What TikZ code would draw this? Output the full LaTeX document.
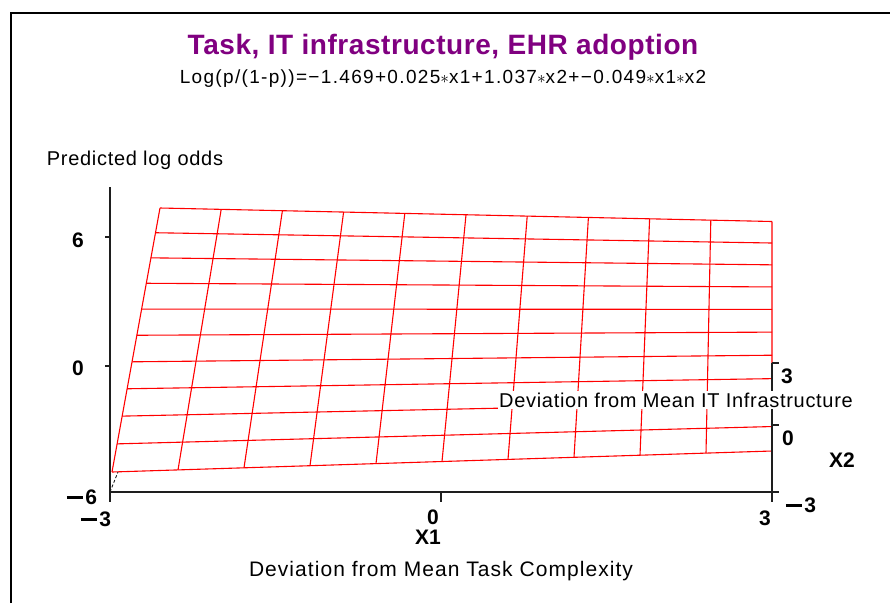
\documentclass[tikz,border=0pt]{standalone}
\usepackage{fontspec}
\setmainfont{Liberation Sans}
\definecolor{titlepurple}{RGB}{128,0,128}
\definecolor{axisgray}{RGB}{30,30,30}

% long heavy minus used in the bold tick labels
\newcommand\heavyminus{\rule[5.5pt]{16pt}{3pt}\kern2.5pt}

\tikzset{
  grid line/.style={draw=red, line width=1.1pt},
  axis line/.style={draw=axisgray, line width=1.3pt},
  plain label/.style={inner sep=0pt, font=\fontsize{20}{24}\selectfont\addfontfeature{LetterSpace=3.5}},
  tick label/.style={inner sep=0pt, font=\fontsize{21}{25}\selectfont\bfseries},
}

\begin{document}
\begin{tikzpicture}[x=1pt, y=-1pt]
  \useasboundingbox (0,0) rectangle (890,603);

  % outer frame (open on the right and bottom)
  \draw[line width=2.5pt] (11,603) -- (11,13) -- (890,13);

  % headings
  \node[text=titlepurple, inner sep=0pt,
        font=\fontsize{28}{33}\selectfont\bfseries\addfontfeature{LetterSpace=2}]
        (title) at (443,47) {Task, IT infrastructure, EHR adoption};
  \node[inner sep=0pt, font=\fontsize{19}{22}\selectfont\addfontfeature{LetterSpace=7}]
        (equation) at (443,79)
        {Log(p/(1-p))=−1.469+0.025$\ast$x1+1.037$\ast$x2+−0.049$\ast$x1$\ast$x2};

  % surface grid: lines of constant X2 and lines of constant X1
  \foreach \j in {0,...,10}{
    \pgfmathsetmacro\u{\j/10}
    \pgfmathsetmacro\s{1.075*\u/(1+0.075*\u)}
    \coordinate (L\j) at ({112+48*\s},{472-264*\s});
    \coordinate (R\j) at (772,{451-229.5*\s});
  }
  \foreach \i in {0,...,10}{
    \coordinate (B\i) at ({112+66*\i},{472-2.1*\i});
    \coordinate (T\i) at ({160+61.2*\i},{208+1.35*\i});
  }
  \foreach \j in {0,...,10}{ \draw[grid line] (L\j) -- (R\j); }
  \foreach \i in {0,...,10}{ \draw[grid line] (B\i) -- (T\i); }

  % axes
  \coordinate (ztop) at (110,187);
  \coordinate (origin) at (110,492);
  \coordinate (xlow) at (110,502);
  \coordinate (xend) at (772,492);
  \coordinate (xmid) at (441,492);
  \coordinate (xmidlow) at (441,502);
  \coordinate (yback) at (772,363);
  \coordinate (yfrontlow) at (772,502);
  \coordinate (corner) at (118,472);

  \draw[axis line] (ztop) -- (xlow);
  \draw[axis line] (origin) -- (xend);
  \draw[axis line] (yback) -- (yfrontlow);
  \draw[axis line, dash pattern=on 3pt off 2pt, line width=0.9pt] (origin) -- (corner);

  % z ticks
  \coordinate (z6) at (110,237);
  \coordinate (z0) at (110,366);
  \draw[axis line] (z6) -- ++(-5,0);
  \draw[axis line] (z0) -- ++(-5,0);
  % x1 ticks
  \draw[axis line] (xmid) -- (xmidlow);
  % x2 ticks
  \coordinate (y3) at (772,363);
  \coordinate (y0) at (772,425);
  \coordinate (ym3) at (772,492);
  \draw[axis line] (y3) -- ++(7,0);
  \draw[axis line] (y0) -- ++(7,0);
  \draw[axis line] (ym3) -- ++(7,0);

  % axis titles
  \node[plain label] (zlabel) at (135,160) {Predicted log odds};
  \node[plain label, fill=white, inner sep=1.5pt] (x2label) at (676,400) {Deviation from Mean IT Infrastructure};
  \node[plain label, font=\fontsize{21}{25}\selectfont\addfontfeature{LetterSpace=5}]
        (x1label) at (441,571) {Deviation from Mean Task Complexity};

  % tick labels
  \node[tick label] (lz6) at (78,240) {6};
  \node[tick label] (lz0) at (78,368) {0};
  \node[tick label] (lzm6) at (82,497) {\heavyminus 6};
  \node[tick label] (lxm3) at (96,519) {\heavyminus 3};
  \node[tick label] (lx0) at (433,517) {0};
  \node[tick label] (lx3) at (765,518) {3};
  \node[tick label] (x1name) at (428,537) {X1};
  \node[tick label] (ly3) at (787,376) {3};
  \node[tick label] (ly0) at (788,438) {0};
  \node[tick label] (lym3) at (801,505) {\heavyminus 3};
  \node[tick label] (x2name) at (842,460) {X2};
\end{tikzpicture}
\end{document}
